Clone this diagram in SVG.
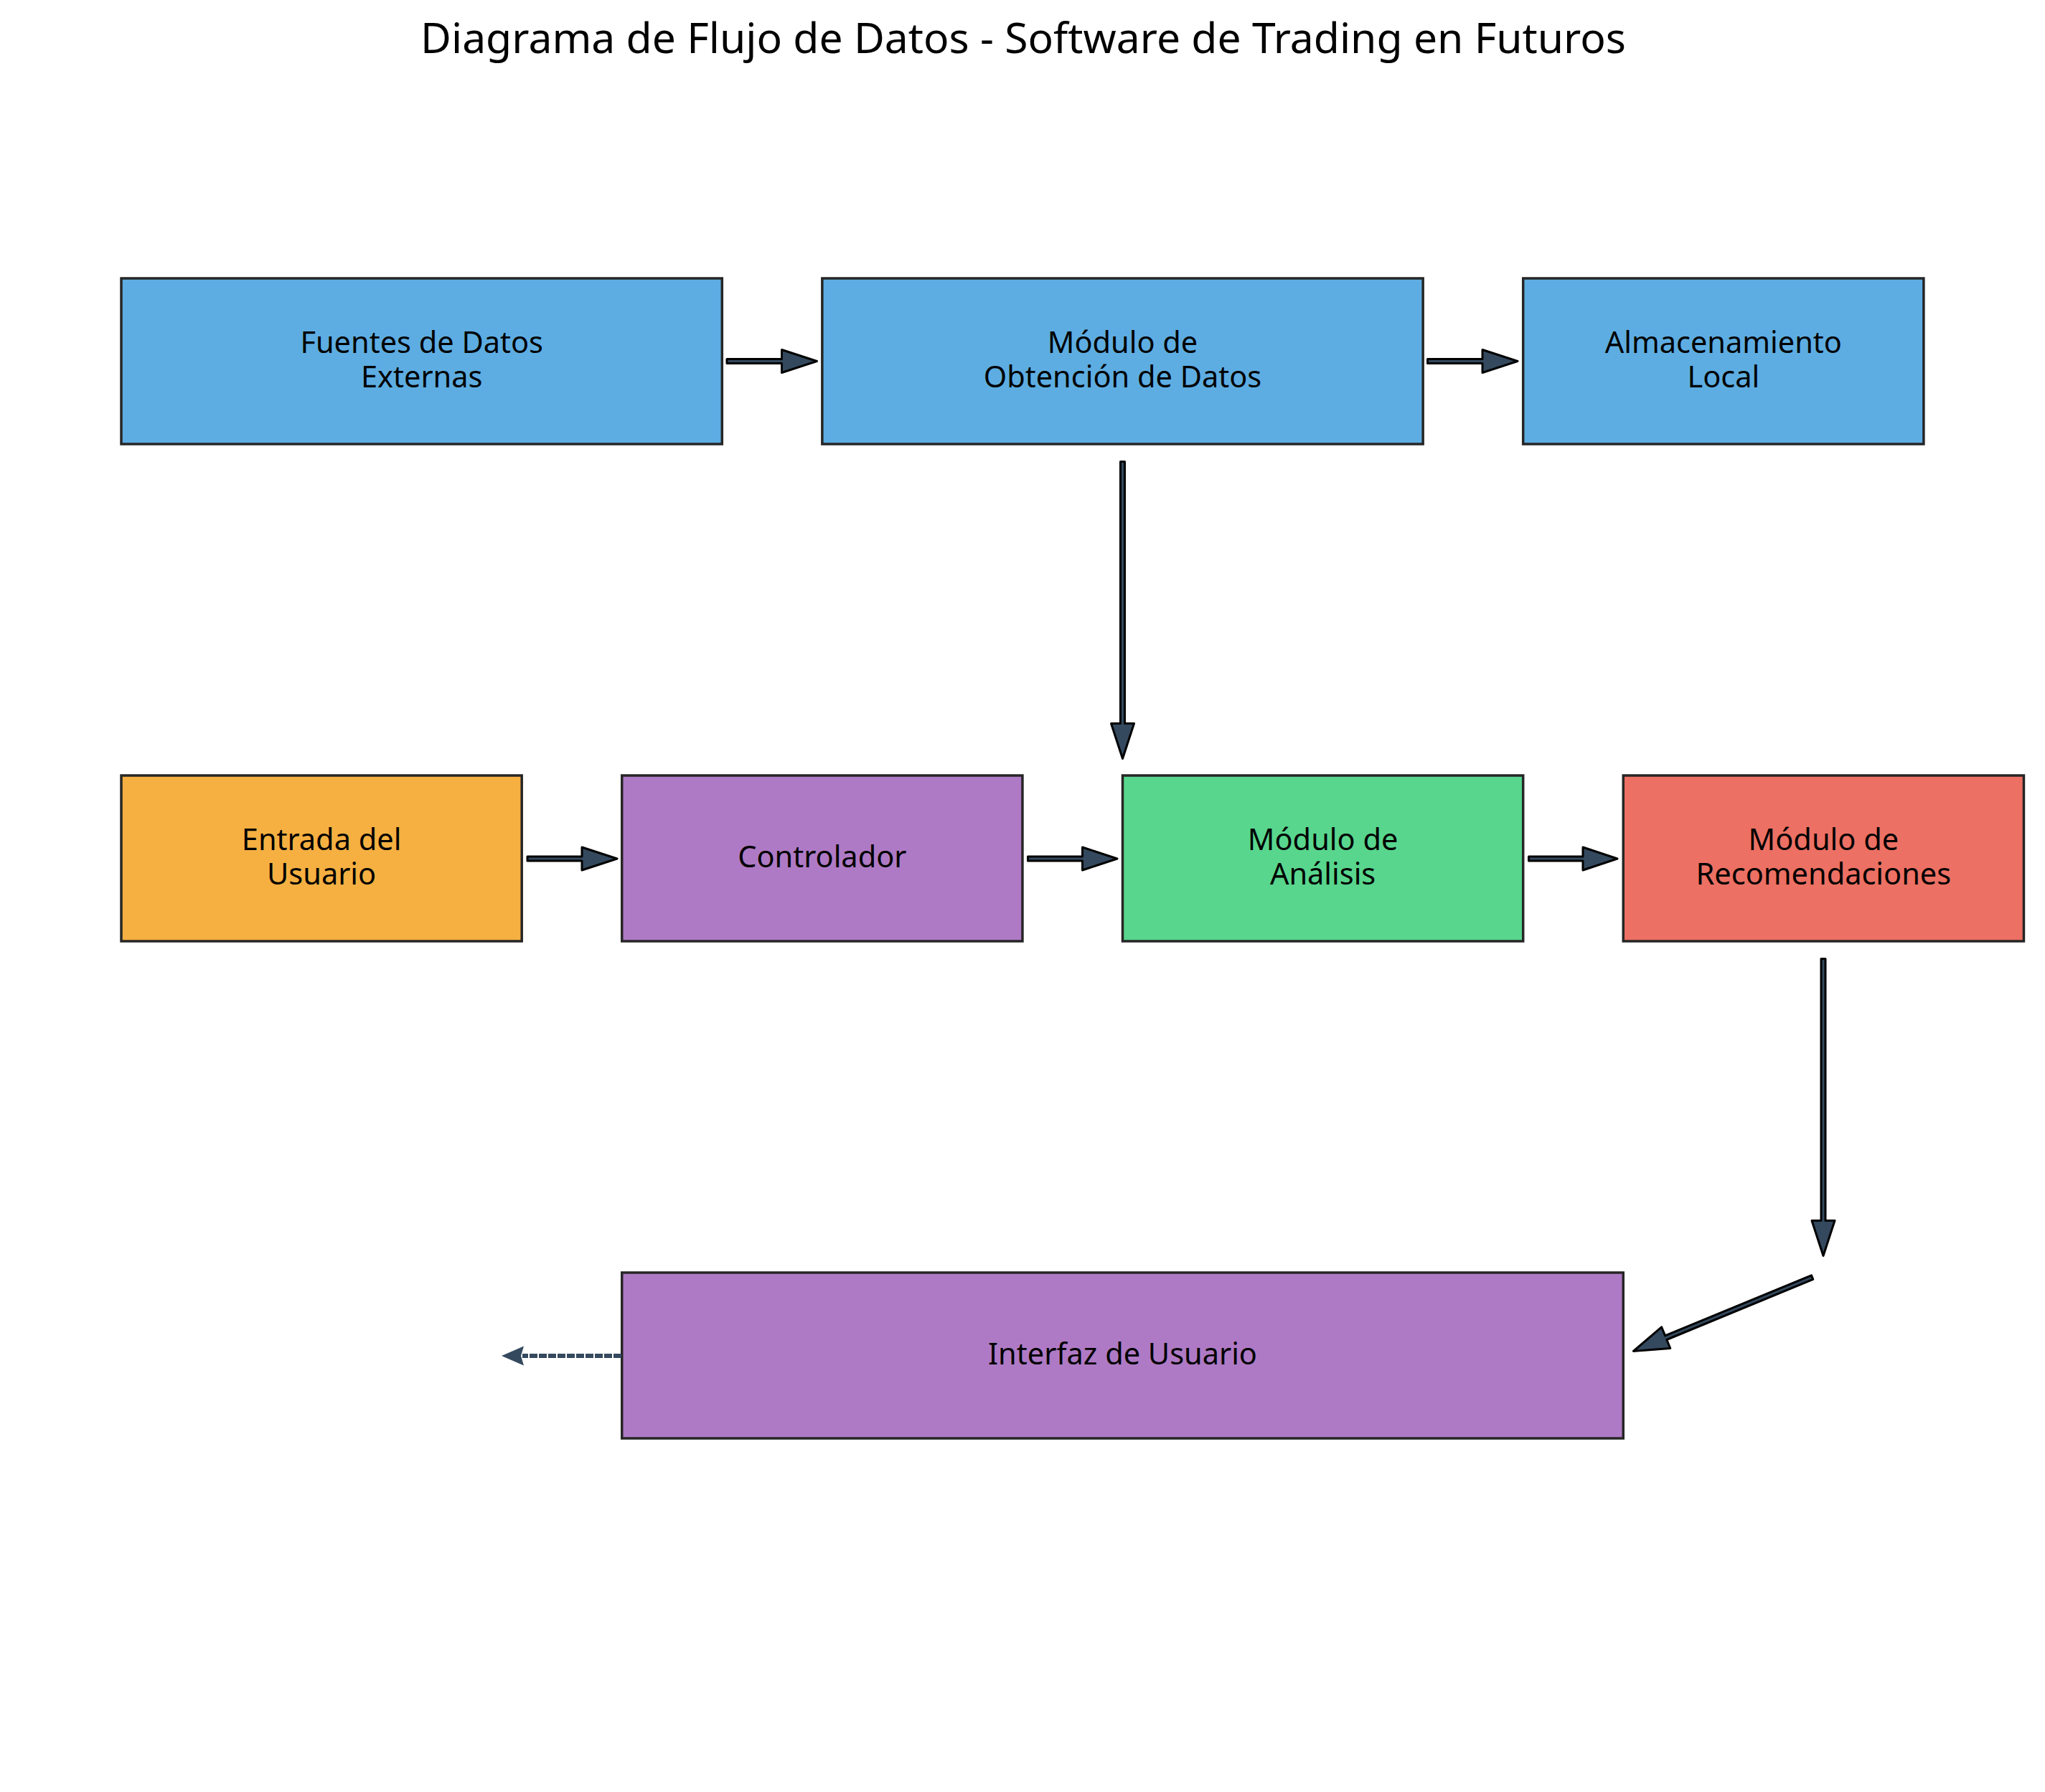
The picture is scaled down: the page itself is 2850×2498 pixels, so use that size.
<svg xmlns="http://www.w3.org/2000/svg" width="2850" height="2498" viewBox="0 0 2850 2498">
<style>
.box{stroke:#262626;stroke-width:3.5}
.lbl{font-family:"Noto Sans","Open Sans","Liberation Sans",sans-serif;font-size:41.5px;fill:#000;text-anchor:middle}
.title{font-family:"Noto Sans","Open Sans","Liberation Sans",sans-serif;font-size:58.8px;fill:#000;text-anchor:middle}
.arr{fill:#34495e;stroke:#000;stroke-width:3;stroke-linejoin:round}
.blue{fill:#5dade2}.orange{fill:#f5b041}.purple{fill:#af7ac5}.green{fill:#58d68d}.red{fill:#ec7063}
</style>
<rect width="2850" height="2498" fill="#fff"/>
<text class="title" x="1426" y="74">Diagrama de Flujo de Datos - Software de Trading en Futuros</text>

<g id="fuentes">
<rect class="box blue" x="169" y="388" width="837.3" height="231"/>
<text class="lbl" x="587.7" y="492">Fuentes de Datos</text>
<text class="lbl" x="587.7" y="540">Externas</text>
</g>
<g id="obtencion">
<rect class="box blue" x="1145.85" y="388" width="837.3" height="231"/>
<text class="lbl" x="1564.5" y="492">Módulo de</text>
<text class="lbl" x="1564.5" y="540">Obtención de Datos</text>
</g>
<g id="almacenamiento">
<rect class="box blue" x="2122.7" y="388" width="558.2" height="231"/>
<text class="lbl" x="2401.8" y="492">Almacenamiento</text>
<text class="lbl" x="2401.8" y="540">Local</text>
</g>
<g id="entrada">
<rect class="box orange" x="169" y="1081" width="558.2" height="231"/>
<text class="lbl" x="448.1" y="1185">Entrada del</text>
<text class="lbl" x="448.1" y="1233">Usuario</text>
</g>
<g id="controlador">
<rect class="box purple" x="866.75" y="1081" width="558.2" height="231"/>
<text class="lbl" x="1145.85" y="1209">Controlador</text>
</g>
<g id="analisis">
<rect class="box green" x="1564.5" y="1081" width="558.2" height="231"/>
<text class="lbl" x="1843.6" y="1185">Módulo de</text>
<text class="lbl" x="1843.6" y="1233">Análisis</text>
</g>
<g id="recomendaciones">
<rect class="box red" x="2262.25" y="1081" width="558.2" height="231"/>
<text class="lbl" x="2541.35" y="1185">Módulo de</text>
<text class="lbl" x="2541.35" y="1233">Recomendaciones</text>
</g>
<g id="interfaz">
<rect class="box purple" x="866.75" y="1774" width="1395.5" height="231"/>
<text class="lbl" x="1564.5" y="1902">Interfaz de Usuario</text>
</g>

<g id="connectors">
<path class="arr" d="M1013,500.5 L1089.5,500.5 L1089.5,487.5 L1138.5,503.5 L1089.5,519.5 L1089.5,506.5 L1013,506.5 Z"/>
<path class="arr" d="M1989.5,500.5 L2066,500.5 L2066,487.5 L2115,503.5 L2066,519.5 L2066,506.5 L1989.5,506.5 Z"/>
<path class="arr" d="M735,1194 L811,1194 L811,1181 L860,1197 L811,1213 L811,1200 L735,1200 Z"/>
<path class="arr" d="M1432.5,1194 L1508.5,1194 L1508.5,1181 L1557,1197 L1508.5,1213 L1508.5,1200 L1432.5,1200 Z"/>
<path class="arr" d="M2130.5,1194 L2206,1194 L2206,1181 L2254,1197 L2206,1213 L2206,1200 L2130.5,1200 Z"/>
<path class="arr" d="M1561.5,643.5 L1561.5,1008.5 L1548.5,1008.5 L1564.5,1057.5 L1580.5,1008.5 L1567.5,1008.5 L1567.5,643.5 Z"/>
<path class="arr" d="M2538,1336.5 L2538,1701.5 L2525,1701.5 L2541,1750.5 L2557,1701.5 L2544,1701.5 L2544,1336.5 Z"/>
<path class="arr" d="M2524.5,1777.8 L2320.6,1861.9 L2315.6,1849.9 L2276.4,1883.4 L2327.8,1879.5 L2322.8,1867.5 L2526.7,1783.4 Z"/>
<line x1="866" y1="1890" x2="728" y2="1890" stroke="#34495e" stroke-width="6" stroke-dasharray="11 2"/>
<path d="M699,1890 L730,1876.5 L726,1890 L730,1903.5 Z" fill="#34495e"/>
</g>
</svg>
